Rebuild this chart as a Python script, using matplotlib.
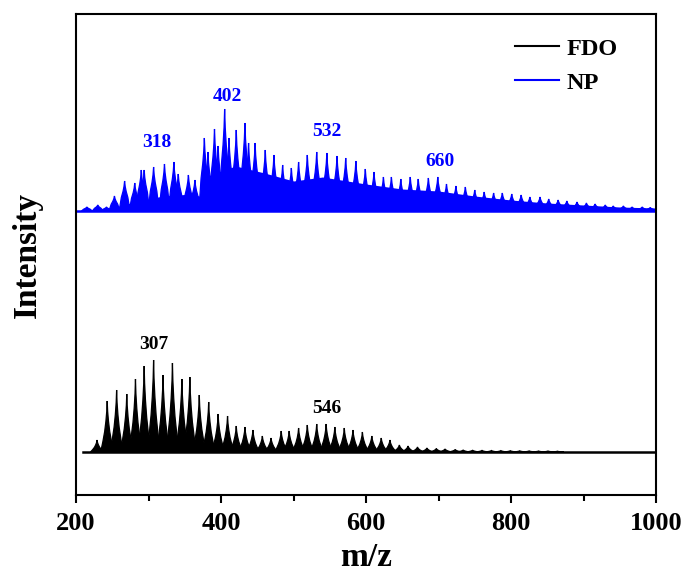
import matplotlib
matplotlib.use("Agg")
import matplotlib.pyplot as plt
from matplotlib.lines import Line2D

plt.rcParams["font.family"] = ["Liberation Serif", "DejaVu Serif"]
plt.rcParams["font.weight"] = "bold"

# peak centres (m/z) and heights (a.u.)
fdo_mz = [229, 243, 256, 270, 282, 294, 307, 320, 333, 346, 357, 370,
          383, 396, 409, 421, 433, 444, 457, 469, 483, 494, 507, 519,
          532, 545, 557, 570, 582, 595, 608, 621, 633, 646, 658, 671,
          684, 697, 709, 723, 734, 747, 760, 773, 786, 799, 812, 825,
          838, 851, 864]
fdo_h = [12, 51, 62, 58, 73, 86, 92, 77, 89, 73, 75, 57,
         50, 38, 36, 26, 25, 22, 16, 14, 21, 21, 24, 27,
         28, 28, 25, 24, 22, 20, 16, 14, 12, 7, 6, 5,
         4, 3.5, 3, 2.5, 2, 1.8, 1.6, 1.5, 1.4, 1.3, 1.2, 1.1,
         1.0, 1.0, 0.8]

np_mz = [215, 230, 242, 253, 267, 281, 290, 294, 307, 322, 335, 341,
         355, 364, 377, 382, 391, 396, 405, 411, 421, 433, 438, 447,
         461, 473, 485, 497, 507, 519, 532, 546, 560, 572, 586, 599,
         611, 624, 635, 648, 661, 672, 686, 699, 711, 724, 737, 750,
         763, 776, 788, 801, 814, 826, 840, 852, 865, 877, 891, 904,
         916, 930, 941, 955, 967, 981, 992]
np_h = [4, 6, 4, 15, 30, 28, 41, 41, 44, 47, 49, 37,
        36, 31, 73, 59, 82, 65, 102, 73, 81, 88, 68, 68,
        61, 56, 46, 43, 49, 56, 59, 58, 55, 53, 50, 42,
        39, 34, 34, 32, 34, 32, 33, 34, 27, 25, 24, 21,
        19, 18, 18, 17, 16, 14, 14, 12, 11, 10, 9, 8,
        7, 6, 5, 5, 4, 4, 3.5]

# filled background under the NP peaks
np_floor_mz = [215, 250, 280, 320, 360, 374, 378, 420, 460, 500, 540,
               600, 650, 700, 750, 800, 850, 900, 950, 1000]
np_floor_h = [0, 3, 9, 15, 17, 14, 34, 45, 38, 30, 34, 27, 22, 20, 15,
              11, 8, 6, 4, 3]

fdo_offset = 43
np_offset = 284

labels_np = [("318", 311, 352), ("402", 409, 398), ("532", 546, 363), ("660", 702, 333)]
labels_fdo = [("307", 307, 151), ("546", 546, 87)]

# peak shape templates (m/z offset, fraction of height)
fdo_dx = [-9, -6, -3.5, -1.8, -0.6, 0, 0.6, 1.8, 3.5, 6, 9]
fdo_fr = [0, 0.2, 0.4, 0.6, 0.8, 1, 0.8, 0.6, 0.4, 0.2, 0]
np_dx = [-7.5, -4.5, -2.2, -0.8, 0, 0.8, 2.2, 4.5, 7.5]
np_fr = [0, 0.45, 0.65, 0.82, 1, 0.82, 0.65, 0.45, 0]


def draw_peaks(ax, mz, h, offset, color, dx, fr):
    for m, hh in zip(mz, h):
        xs = [m + d for d in dx]
        ys = [offset + hh * f for f in fr]
        ax.fill(xs, ys, color=color, lw=0.9)


fig = plt.figure(figsize=(6.88, 5.75), dpi=100)
ax = fig.add_axes([0.1105, 0.1391, 0.843, 0.8357])

# FDO
ax.plot([210, 1000], [fdo_offset, fdo_offset], color="black", lw=1.8)
draw_peaks(ax, fdo_mz, fdo_h, fdo_offset, "black", fdo_dx, fdo_fr)

# NP
ax.plot([200, 1000], [np_offset, np_offset], color="blue", lw=1.8)
ax.fill_between(np_floor_mz, np_offset, [np_offset + v for v in np_floor_h],
                color="blue", lw=0)
draw_peaks(ax, np_mz, np_h, np_offset, "blue", np_dx, np_fr)

for txt, x, y in labels_np:
    ax.text(x, y, txt, color="blue", fontsize=14, ha="center", va="center")
for txt, x, y in labels_fdo:
    ax.text(x, y, txt, color="black", fontsize=14, ha="center", va="center")

ax.set_xlim(200, 1000)
ax.set_ylim(0, 480.5)
ax.set_xticks([200, 400, 600, 800, 1000])
ax.set_xticks([300, 500, 700, 900], minor=True)
ax.set_yticks([])
ax.tick_params(axis="x", which="major", direction="out", length=6, width=1.5,
               labelsize=19, pad=6)
ax.tick_params(axis="x", which="minor", direction="out", length=4, width=1.5)
for s in ax.spines.values():
    s.set_linewidth(1.5)

ax.set_xlabel("m/z", fontsize=24, fontweight="bold", labelpad=5)
ax.set_ylabel("Intensity", fontsize=24, fontweight="bold", labelpad=24)

handles = [Line2D([], [], color="black", lw=1.5),
           Line2D([], [], color="blue", lw=1.5)]
ax.legend(handles, ["FDO", "NP"], loc="upper left",
          bbox_to_anchor=(0.757, 0.952), frameon=False, fontsize=17.5,
          handlelength=1.8, handletextpad=0.3, labelspacing=0.5,
          borderpad=0, borderaxespad=0)

fig.savefig("out.png", dpi=100)
